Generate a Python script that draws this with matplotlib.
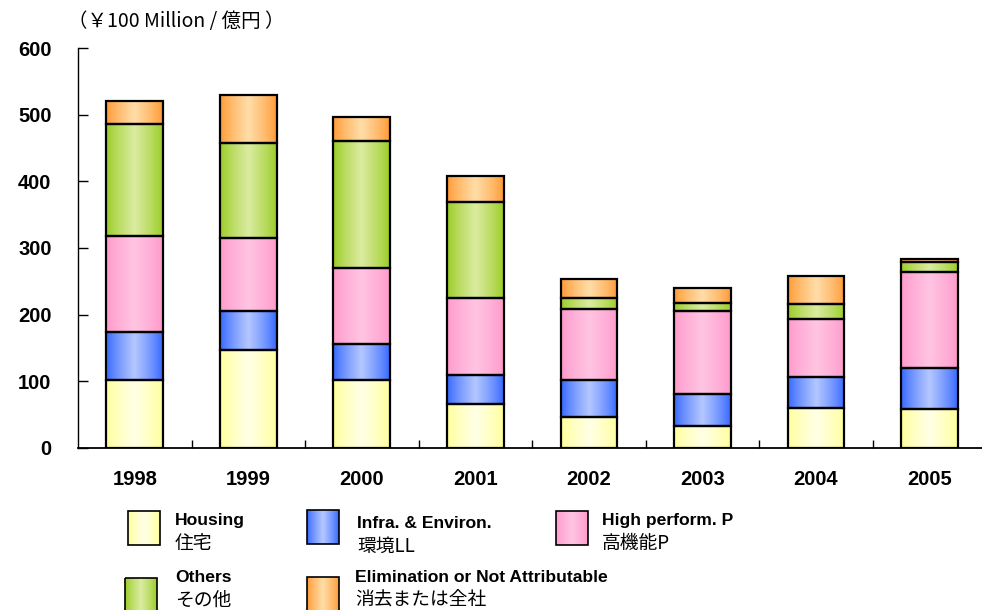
import numpy as np
import matplotlib
matplotlib.use("Agg")
from matplotlib import pyplot as plt
from matplotlib.colors import to_rgb
from matplotlib.patches import Rectangle

years = ['1998', '1999', '2000', '2001', '2002', '2003', '2004', '2005']
housing = [102, 147, 102, 66, 47, 33, 60, 59]
infra = [72, 58, 54, 43, 55, 48, 46, 61]
high_perf = [144, 110, 114, 116, 106, 124, 87, 144]
others = [168, 142, 190, 144, 17, 12, 23, 15]
elimination = [34, 72, 36, 39, 28, 23, 42, 4]

series = [housing, infra, high_perf, others, elimination]
labels_en = ['Housing', 'Infra. & Environ.', 'High perform. P', 'Others',
             'Elimination or Not Attributable']
labels_jp = ['住宅', '環境LL', '高機能P', 'その他', '消去または全社']
# (edge colour, centre colour) of the horizontal gradient
colours = [('#FFFF99', '#FFFFE6'), ('#3366FF', '#B4C7FF'), ('#FF99CC', '#FFC4E2'),
           ('#99CC22', '#DAEBA0'), ('#FF9933', '#FFDDA8')]

JP = ['Noto Sans CJK JP', 'DejaVu Sans']


def gradient(edge, centre, n=64):
    x = np.linspace(0, 1, n)
    t = (1 - np.abs(2 * x - 1)) ** 0.8
    e = np.array(to_rgb(edge))
    c = np.array(to_rgb(centre))
    img = e[None, :] + (c - e)[None, :] * t[:, None]
    return img[None, :, :]


def fill_gradient(ax, patch, edge, centre):
    x0, y0 = patch.get_x(), patch.get_y()
    w, h = patch.get_width(), patch.get_height()
    im = ax.imshow(gradient(edge, centre), extent=(x0, x0 + w, y0, y0 + h),
                   aspect='auto', zorder=2, interpolation='bilinear')
    im.set_clip_path(patch)


fig = plt.figure(figsize=(9.82, 6.10), dpi=100)
ax = fig.add_axes([0.0794, 0.2656, 0.925, 0.6557])

x = np.arange(len(years))
bottom = np.zeros(len(years))
for vals, (edge, centre) in zip(series, colours):
    bars = ax.bar(x, vals, 0.5, bottom=bottom, facecolor='none',
                  edgecolor='black', linewidth=1.6, zorder=3)
    for p in bars:
        fill_gradient(ax, p, edge, centre)
    bottom += np.array(vals)

ax.set_xlim(-0.5, len(years) - 0.5)
ax.set_ylim(0, 600)
ax.set_yticks(range(0, 601, 100))
ax.set_xticks(x)
ax.set_xticklabels(years)
ax.set_xticks(x[:-1] + 0.5, minor=True)
ax.tick_params(axis='x', which='major', length=0, pad=16)
ax.tick_params(axis='x', which='minor', direction='in', length=6, width=1)
ax.tick_params(axis='y', direction='in', length=7, width=1, pad=19)
for lab in ax.get_xticklabels() + ax.get_yticklabels():
    lab.set_fontfamily('Liberation Sans')
    lab.set_fontweight('bold')
    lab.set_fontsize(14.5)
ax.spines['top'].set_visible(False)
ax.spines['right'].set_visible(False)
ax.spines['left'].set_linewidth(1)
ax.spines['bottom'].set_linewidth(1.3)

fig.text(68 / 982, 1 - 22 / 610, '（￥100 Million / 億円 ）', family=JP,
         fontsize=14, va='center', ha='left')

# legend drawn in pixel coordinates
lg = fig.add_axes([0, 0, 1, 1], facecolor='none')
lg.axis('off')
legend_pos = [(128, 511), (307, 510), (556, 511), (125, 578), (307, 577)]
text_pos = [(175, 521), (357, 523), (602, 521), (175, 577), (355, 577)]
for (bx, by), (tx, ty), (edge, centre), en, jp in zip(legend_pos, text_pos, colours,
                                                     labels_en, labels_jp):
    box = Rectangle((bx, by), 32, 34, facecolor='none', edgecolor='black',
                    linewidth=1.2, zorder=3)
    lg.add_patch(box)
    im = lg.imshow(gradient(edge, centre), extent=(bx, bx + 32, by + 34, by),
                   aspect='auto', zorder=2, interpolation='bilinear')
    im.set_clip_path(box)
    lg.text(tx, ty, en, family='Liberation Sans', fontweight='bold',
            fontsize=12.6, va='center', ha='left')
    lg.text(tx, ty + 23, jp, family=JP, fontsize=13.5, va='center', ha='left')
lg.set_xlim(0, 982)
lg.set_ylim(610, 0)

fig.savefig('out.png', dpi=100)
